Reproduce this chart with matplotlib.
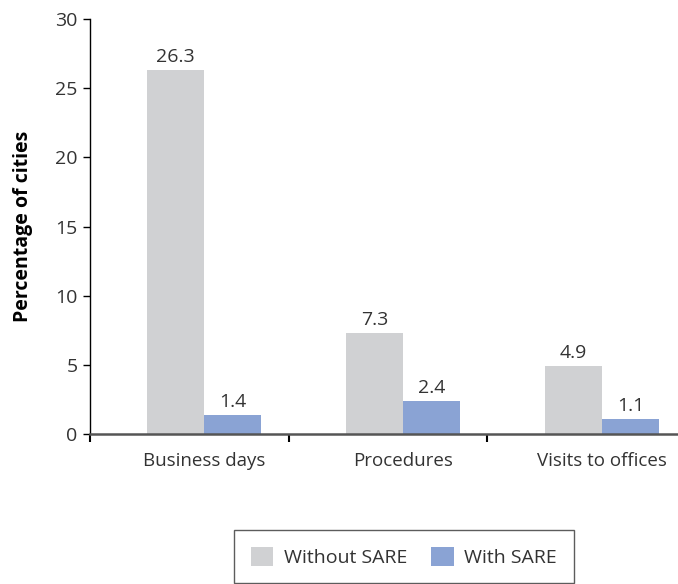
import numpy as np
import matplotlib
matplotlib.use('Agg')
import matplotlib.pyplot as plt

plt.rcParams['font.family'] = ['Open Sans', 'DejaVu Sans']

# data
categories = ['Business days', 'Procedures', 'Visits to offices']
without_sare = [26.3, 7.3, 4.9]
with_sare = [1.4, 2.4, 1.1]

gray = '#d0d1d3'
blue = '#8aa3d4'
txt = '#333333'

fig = plt.figure(figsize=(6.78, 5.84), dpi=100)
ax = fig.add_axes([0.1327, 0.2568, 0.8673, 0.7107])

x = np.arange(len(categories))
w = 0.286
b1 = ax.bar(x - w / 2, without_sare, w, color=gray, label='Without SARE')
b2 = ax.bar(x + w / 2, with_sare, w, color=blue, label='With SARE')

for bars, vals in ((b1, without_sare), (b2, with_sare)):
    for r, v in zip(bars, vals):
        ax.text(r.get_x() + r.get_width() / 2, v + 0.3, '%.1f' % v,
                ha='center', va='bottom', fontsize=14, color=txt)

ax.set_xlim(-0.573, 2.382)
ax.set_ylim(0, 30)
ax.set_yticks(range(0, 31, 5))
ax.tick_params(axis='y', direction='out', length=5, width=1, colors='black',
               labelcolor=txt, labelsize=14, pad=4)

# category boundary ticks, labels at centres
ax.set_xticks([-0.573, 0.427, 1.422])
ax.set_xticklabels([])
ax.tick_params(axis='x', direction='out', length=6, width=1.5, colors='black')
for xi, c in zip(x, categories):
    ax.text(xi, -1.3, c, ha='center', va='top', fontsize=13.5, color=txt)

for s in ('top', 'right'):
    ax.spines[s].set_visible(False)
ax.spines['left'].set_color('black')
ax.spines['left'].set_linewidth(1)
ax.spines['bottom'].set_color('#555555')
ax.spines['bottom'].set_linewidth(1.8)

ax.set_ylabel('Percentage of cities', fontsize=14, fontweight='bold',
              color='black', labelpad=16)

leg = fig.legend(loc='upper left', bbox_to_anchor=(234 / 678, 1 - 530 / 584),
                 ncol=2, frameon=True, fancybox=False, fontsize=14,
                 handlelength=1.15, handleheight=1.15, columnspacing=1.25,
                 borderpad=0.85, handletextpad=0.55, borderaxespad=0,
                 labelcolor=txt)
leg.get_frame().set_edgecolor('#333333')
leg.get_frame().set_linewidth(1)

fig.savefig('out.png', dpi=100)
